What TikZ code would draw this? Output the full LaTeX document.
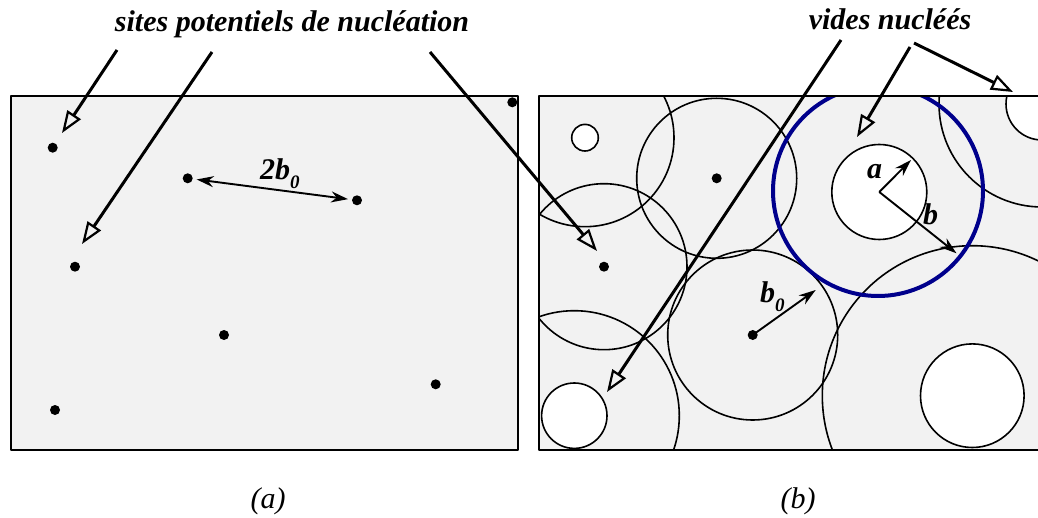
\documentclass[tikz,border=0pt]{standalone}
\usepackage{fontspec}
\setmainfont{Liberation Serif}
\usetikzlibrary{arrows.meta}
\definecolor{ink}{HTML}{000000}
\definecolor{matfill}{HTML}{F2F2F2}
\definecolor{shellcol}{HTML}{00008C}
\newcommand\lowsub[1]{\raisebox{-0.28em}{\fontsize{19}{19}\selectfont #1}}

\begin{document}
\begin{tikzpicture}[x=1pt, y=-1pt, line join=round,
  lbl/.style={font=\fontsize{30}{36}\selectfont\bfseries\itshape, inner sep=0pt},
  figcap/.style={font=\fontsize{30}{36}\selectfont\itshape, inner sep=0pt, anchor=base},
  frame/.style={draw=ink, line width=2pt},
  ring/.style={draw=ink, line width=1.6pt},
  void/.style={draw=ink, line width=1.6pt, fill=white},
  dim/.style={{Stealth[length=17pt,width=11pt]}-{Stealth[length=17pt,width=11pt]},
              line width=1.9pt, shorten <=9pt, shorten >=9pt},
  rad/.style={-{Stealth[length=17pt,width=11pt]}, line width=1.9pt},
  lead/.style={-{Triangle[open,length=22pt,width=16pt,line width=2.2pt]},
               line width=3pt}]
\useasboundingbox (0,0) rectangle (1038,518);

% ================================================================ (a) the sites
\fill[matfill] (11,96) rectangle (518,450);
\draw[frame] (11,96) rectangle (518,450);
\foreach \n/\x/\y in {s1/52.7/147.7, s2/187.7/178.3, s3/357/200.3,
                      s4/75/266.7, s5/224/335, s6/435.7/384.3,
                      s7/55/410, s8/512.3/102.3}
  \coordinate (\n) at (\x,\y);
\foreach \n in {s1,s2,s3,s4,s5,s6,s7,s8} \fill[ink] (\n) circle (5);
\draw[dim] (s2) -- (s3);
\node[lbl, anchor=base west] (twob) at (260,180) {2b\lowsub{0}};
\node[figcap] (capa) at (268,508) {(a)};

% ================================================================ (b) the voids
\fill[matfill] (539,96) rectangle (1040,450);
\coordinate (d1) at (716.7,178.3);
\coordinate (d2) at (604,266.7);
\coordinate (d3) at (752.7,335);
\coordinate (v1) at (585,137.7);
\coordinate (v2) at (574.3,415.7);
\coordinate (v3) at (972.3,395.7);
\coordinate (v4) at (879.3,192);
\coordinate (v5) at (1042,104);
\begin{scope}
  \clip (539,96) rectangle (1040,450);
  \foreach \c/\r in {d1/80, d2/83, d3/85, v1/89, v2/105, v3/150, v5/103}
    \draw[ring] (\c) circle (\r);
  \foreach \c/\r in {v1/13.3, v2/32.7, v3/51.8, v4/47.5, v5/36}
    \draw[void] (\c) circle (\r);
  \draw[shellcol, line width=4pt] (878,191) circle (105);
\end{scope}
\draw[frame] (539,96) rectangle (1040,450);
\foreach \n in {d1,d2,d3} \fill[ink] (\n) circle (5);

\coordinate (atip) at (911,160);
\coordinate (btip) at (956.5,253.3);
\coordinate (bztip) at (815.7,290);
\draw[rad] (v4) -- (atip);
\draw[rad] (v4) -- (btip);
\draw[rad] (d3) -- (bztip);
\node[lbl, anchor=base west] (alab) at (867,179) {a};
\node[lbl, anchor=base west] (blab) at (923,225) {b};
\node[lbl, anchor=base west] (bzlab) at (760,303) {b\lowsub{0}};
\node[figcap] (capb) at (798,508) {(b)};

% ================================================================ the leaders
\node[lbl, anchor=base] (sites) at (292,32) {sites potentiels de nucléation};
\node[lbl, anchor=base] (vides) at (890,30) {vides nucléés};
\coordinate (sp1) at (117,50);   \coordinate (st1) at (62,133);
\coordinate (sp2) at (212,52);   \coordinate (st2) at (82,244);
\coordinate (sp3) at (430,52);   \coordinate (st3) at (597,251);
\coordinate (vp1) at (841,40);   \coordinate (vt1) at (607,392);
\coordinate (vp2) at (910,47);   \coordinate (vt2) at (857,137);
\coordinate (vp3) at (914,43);   \coordinate (vt3) at (1013,92);
\foreach \a/\b in {sp1/st1, sp2/st2, sp3/st3, vp1/vt1, vp2/vt2, vp3/vt3}
  \draw[lead] (\a) -- (\b);

\end{tikzpicture}
\end{document}
